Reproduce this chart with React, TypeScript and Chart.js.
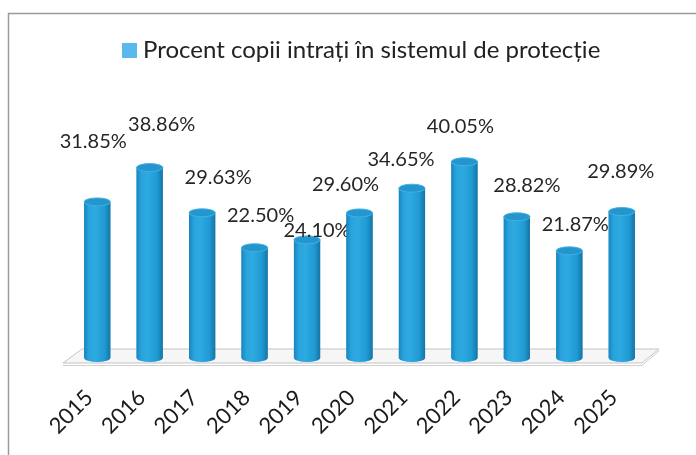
import React, { useEffect, useRef } from "react";
import { Chart, registerables } from "chart.js";

Chart.register(...registerables);

const years = ["2015", "2016", "2017", "2018", "2019", "2020", "2021", "2022", "2023", "2024", "2025"];
const percentValues = [31.85, 38.86, 29.63, 22.5, 24.1, 29.6, 34.65, 40.05, 28.82, 21.87, 29.89];
const valueLabels = ["31.85%", "38.86%", "29.63%", "22.50%", "24.10%", "29.60%", "34.65%", "40.05%", "28.82%", "21.87%", "29.89%"];
const seriesName = "Procent copii intrați în sistemul de protecție";

// label nudges (relative to each bar top), as in the source layout
const labelNudges: [number, number][] = [
  [-4, -60], [12, -43], [16, -35], [6, -32], [10, -9], [-14, -28],
  [-11, -29], [-4, -35], [10, -31], [6, -26], [-1, -40],
];

const FONT = "Lato, 'Open Sans', sans-serif";

function bodyGradient(ctx: CanvasRenderingContext2D, cx: number, half: number) {
  const g = ctx.createLinearGradient(cx - half, 0, cx + half, 0);
  g.addColorStop(0, "#1a84bd");
  g.addColorStop(0.18, "#28a3dc");
  g.addColorStop(0.42, "#2eaae1");
  g.addColorStop(0.78, "#1f9ad3");
  g.addColorStop(1, "#1775a3");
  return g;
}

const cylinderPlugin = {
  id: "cylinder",
  beforeDraw(chart: any) {
    const ctx = chart.ctx;
    const x = chart.scales.x;
    const y = chart.scales.y;
    ctx.save();
    ctx.fillStyle = "#ffffff";
    ctx.fillRect(0, 0, chart.width, chart.height);
    // frame
    ctx.strokeStyle = "#9a9a9a";
    ctx.lineWidth = 1.5;
    ctx.beginPath();
    ctx.moveTo(8.5, chart.height);
    ctx.lineTo(8.5, 13.5);
    ctx.lineTo(chart.width, 13.5);
    ctx.stroke();
    // floor
    const base = y.getPixelForValue(0);
    const l = x.left, r = x.right;
    ctx.beginPath();
    ctx.moveTo(l + 11, base - 9);
    ctx.lineTo(r + 11, base - 9);
    ctx.lineTo(r - 6, base + 5);
    ctx.lineTo(l - 8, base + 5);
    ctx.closePath();
    ctx.fillStyle = "#f6f6f6";
    ctx.fill();
    ctx.strokeStyle = "#c4c4c4";
    ctx.lineWidth = 1;
    ctx.stroke();
    ctx.beginPath();
    ctx.moveTo(l - 8, base + 7.5);
    ctx.lineTo(r - 6, base + 7.5);
    ctx.lineTo(r + 11, base - 7);
    ctx.strokeStyle = "#d0d0d0";
    ctx.stroke();
    // legend
    ctx.fillStyle = "#5ab9ec";
    ctx.fillRect(122, 43, 15, 15);
    ctx.fillStyle = "#222222";
    ctx.font = `24px ${FONT}`;
    ctx.textAlign = "left";
    ctx.textBaseline = "middle";
    ctx.fillText(seriesName, 143, 50);
    ctx.restore();
  },
  afterDatasetsDraw(chart: any) {
    const ctx = chart.ctx;
    const meta = chart.getDatasetMeta(0);
    ctx.save();
    meta.data.forEach((bar: any, i: number) => {
      const bx = bar.x, by = bar.y, w = bar.width, base = bar.base;
      const rx = w / 2, ry = 4;
      const g = bodyGradient(ctx, bx, rx);
      // body
      ctx.fillStyle = g;
      ctx.fillRect(bx - rx, by, w, base - by);
      // bottom half ellipse
      ctx.beginPath();
      ctx.ellipse(bx, base, rx, ry, 0, 0, Math.PI);
      ctx.fill();
      // top cap
      ctx.beginPath();
      ctx.ellipse(bx, by, rx, ry, 0, 0, Math.PI * 2);
      ctx.fillStyle = "#2496cd";
      ctx.fill();
      ctx.strokeStyle = "#3fb2e6";
      ctx.lineWidth = 1;
      ctx.stroke();
      // value label
      const [dx, dy] = labelNudges[i];
      ctx.fillStyle = "#262626";
      ctx.font = `20px ${FONT}`;
      ctx.textAlign = "center";
      ctx.textBaseline = "middle";
      ctx.fillText(valueLabels[i], bx + dx, by + dy);
      // year label
      ctx.save();
      ctx.translate(bx - 8, base + 36);
      ctx.rotate(-Math.PI / 4);
      ctx.font = `22px ${FONT}`;
      ctx.fillStyle = "#1a1a1a";
      ctx.textAlign = "right";
      ctx.textBaseline = "middle";
      ctx.fillText(years[i], 0, 0);
      ctx.restore();
    });
    ctx.restore();
  },
};

export default function App() {
  const ref = useRef<HTMLCanvasElement>(null);
  useEffect(() => {
    if (!ref.current) return;
    const chart = new Chart(ref.current, {
      type: "bar",
      data: {
        labels: years,
        datasets: [
          {
            label: seriesName,
            data: percentValues,
            backgroundColor: "#25a0d8",
            borderWidth: 0,
            barPercentage: 1,
            categoryPercentage: 0.5,
          },
        ],
      },
      options: {
        responsive: false,
        animation: false,
        layout: { padding: { left: 71, right: 48, top: 113, bottom: 97 } },
        scales: {
          x: { display: false, offset: true },
          y: { display: false, min: 0, max: 50 },
        },
        plugins: { legend: { display: false }, tooltip: { enabled: false } },
      },
      plugins: [cylinderPlugin],
    });
    return () => chart.destroy();
  }, []);
  return (
    <div style={{ position: "absolute", left: 0, top: 0, width: 696, height: 455, background: "#fff" }}>
      <canvas ref={ref} width={696} height={455} style={{ display: "block" }} />
    </div>
  );
}
